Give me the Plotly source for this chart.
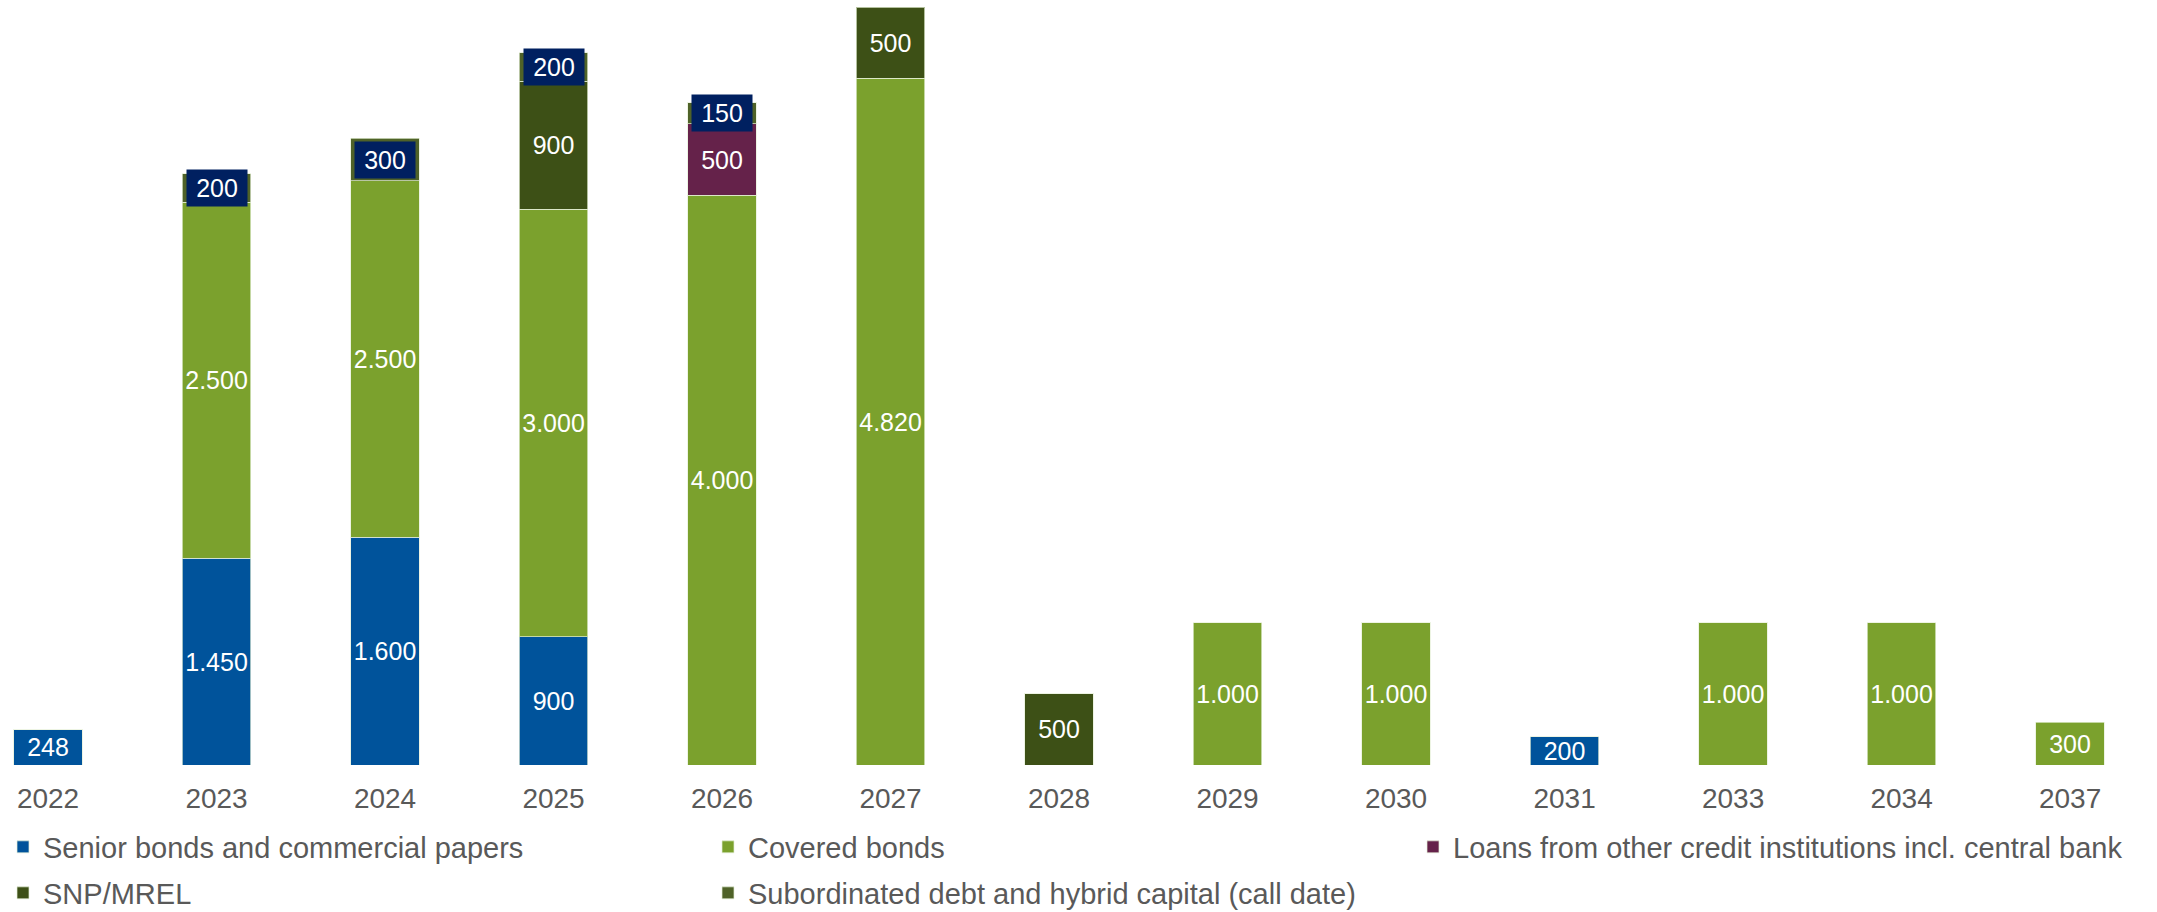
import plotly.graph_objects as go

years = ['2022', '2023', '2024', '2025', '2026', '2027', '2028',
         '2029', '2030', '2031', '2033', '2034', '2037']
senior = [248, 1450, 1600, 900, None, None, None, None, None, 200, None, None, None]
covered = [None, 2500, 2500, 3000, 4000, 4820, None, 1000, 1000, None, 1000, 1000, 300]
loans = [None, None, None, None, 500, None, None, None, None, None, None, None, None]
snp = [None, None, None, 900, None, 500, 500, None, None, None, None, None, None]
subord = [None, 200, 300, 200, 150, None, None, None, None, None, None, None, None]

names = ['Senior bonds and commercial papers', 'Covered bonds',
         'Loans from other credit institutions incl. central bank',
         'SNP/MREL', 'Subordinated debt and hybrid capital (call date)']
colors = ['#00539b', '#7ba12d', '#65224a', '#3d5016', '#4f6228']
series = [senior, covered, loans, snp, subord]

W, H = 2157, 912
T, B = 0, 147
plot_h = H - T - B
FONT = 'Liberation Sans, Arial'

# legend placement (pixel) -> paper
leg_pos = [(3, 847), (708, 847), (1413, 847), (3, 893), (708, 893)]

fig = go.Figure()
for i, (nm, col, vals) in enumerate(zip(names, colors, series)):
    show_text = i != 4
    lg = 'legend' if i == 0 else f'legend{i+1}'
    fig.add_trace(go.Bar(
        x=years, y=vals, name=nm,
        marker=dict(color=col, line=dict(color='rgba(230,240,215,0.7)', width=1)),
        width=0.405,
        texttemplate='%{y:,.0f}' if show_text else None,
        textposition='inside' if show_text else 'none',
        insidetextanchor='middle',
        textangle=0,
        constraintext='none',
        textfont=dict(color='white', size=25, family=FONT),
        legend=lg,
        hoverinfo='skip',
    ))

# navy label boxes for subordinated segments
for i, v in enumerate(subord):
    if v is None:
        continue
    base = sum((s[i] or 0) for s in series[:4])
    fig.add_annotation(
        x=i, y=base + v / 2, xref='x', yref='y',
        text=f'{v:,.0f}'.replace(',', '.'),
        showarrow=False, bgcolor='#002060',
        font=dict(color='white', size=25, family=FONT),
        width=58, height=34, borderpad=1, align='center', valign='middle',
    )

legend_font = dict(size=29, color='#595959', family=FONT)
leg_layout = {}
for i, (px, py) in enumerate(leg_pos):
    key = 'legend' if i == 0 else f'legend{i+1}'
    leg_layout[key] = dict(
        x=px / W, y=(plot_h - (py - T)) / plot_h,
        xanchor='left', yanchor='middle',
        orientation='v', font=legend_font,
        bgcolor='rgba(0,0,0,0)', borderwidth=0,
    )

fig.update_layout(
    width=W, height=H,
    barmode='stack',
    separators=',.',
    plot_bgcolor='white', paper_bgcolor='white',
    margin=dict(l=0, r=0, t=T, b=B, pad=0, autoexpand=False),
    showlegend=True,
    uniformtext=dict(minsize=25, mode='show'),
    xaxis=dict(type='category', range=[-0.285, 12.516], showgrid=False,
               zeroline=False, showline=False, ticks='',
               tickfont=dict(size=28, color='#595959', family=FONT),
               ticklabelstandoff=14),
    yaxis=dict(range=[0, 5370], showgrid=False, zeroline=False,
               showline=False, showticklabels=False, ticks=''),
    **leg_layout,
)

fig.write_html('out.html')
